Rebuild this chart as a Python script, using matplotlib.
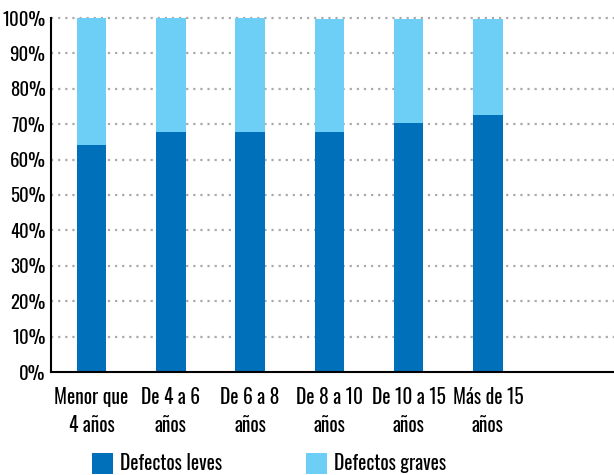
import matplotlib
matplotlib.use("Agg")
import matplotlib.pyplot as plt
from matplotlib.patches import Patch
import numpy as np

categories = ["Menor que\n4 años", "De 4 a 6\naños", "De 6 a 8\naños",
              "De 8 a 10\naños", "De 10 a 15\naños", "Más de 15\naños"]
leves = [64.2, 67.8, 67.8, 67.8, 70.3, 72.6]
graves = [35.8, 32.2, 32.2, 31.9, 29.4, 27.1]
ytick_vals = list(range(0, 101, 10))
ytick_labels = [f"{v}%" for v in ytick_vals]

dark = "#0070BA"
light = "#6DCFF6"
font = ["Oswald", "Barlow Condensed", "DejaVu Sans"]
fsize = 14
fweight = "bold"

fig = plt.figure(figsize=(6.14, 4.75), dpi=100)
ax = fig.add_axes([51 / 614, 1 - 372 / 475, (614 - 51) / 614, (372 - 18) / 475])

x = np.arange(len(categories))
w = 0.373
ax.bar(x, leves, width=w, color=dark, zorder=3)
ax.bar(x, graves, width=w, bottom=leves, color=light, zorder=3)

ax.set_xlim(-0.51, 6.59)
ax.set_ylim(0, 100)
ax.set_yticks(ytick_vals)
ax.set_yticklabels(ytick_labels, family=font, fontweight=fweight, fontsize=13.5)
ax.set_xticks(x)
ax.set_xticklabels(categories, family=font, fontweight=fweight, fontsize=fsize,
                   linespacing=1.45)
ax.tick_params(axis="both", length=0)
ax.tick_params(axis="x", pad=11)
ax.tick_params(axis="y", pad=4)

for v in ytick_vals[1:]:
    ax.axhline(v, color="#aaaaaa", linestyle=(0, (1, 2.2)), linewidth=1.6,
               zorder=1, clip_on=False)

for s in ["top", "right"]:
    ax.spines[s].set_visible(False)
ax.spines["left"].set_linewidth(1.5)
ax.spines["bottom"].set_linewidth(1.5)
ax.spines["left"].set_zorder(4)
ax.spines["bottom"].set_zorder(4)

handles = [Patch(facecolor=dark, label="Defectos leves"),
           Patch(facecolor=light, label="Defectos graves")]
fig.legend(handles=handles, loc="upper center", bbox_to_anchor=(0.438, 0.084),
           ncol=2, frameon=False, columnspacing=4.3, handlelength=1.1,
           handleheight=1.3, handletextpad=0.35,
           prop={"family": font, "weight": fweight, "size": fsize})

fig.savefig("out.png", dpi=100)
